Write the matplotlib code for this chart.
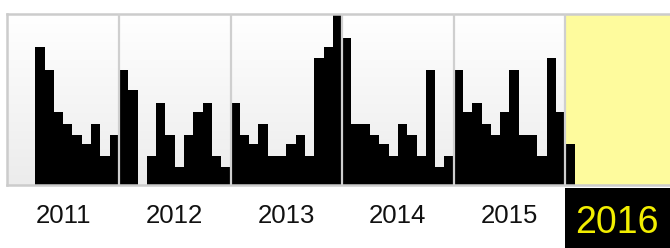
import numpy as np
import matplotlib
matplotlib.use("Agg")
import matplotlib.pyplot as plt
from matplotlib.patches import Rectangle

plt.rcParams['font.family'] = ['Liberation Sans', 'DejaVu Sans']

# monthly activity, Jan 2011 .. Jan 2016 (relative bar heights)
years = ['2011', '2012', '2013', '2014', '2015']
current_year = '2016'
v2011 = [0, 0, 0, 137, 114, 73, 61, 50, 41, 61, 29, 50]
v2012 = [114, 94, 0, 29, 82, 50, 18, 50, 73, 82, 29, 18]
v2013 = [82, 50, 41, 61, 29, 29, 41, 50, 29, 126, 137, 170]
v2014 = [146, 61, 61, 50, 41, 29, 61, 50, 29, 114, 18, 29]
v2015 = [114, 73, 82, 61, 50, 73, 114, 50, 50, 29, 126, 73]
v2016 = [41]

values = v2011 + v2012 + v2013 + v2014 + v2015 + v2016
months = np.arange(len(values))

W, H = 670, 248
fig = plt.figure(figsize=(W / 100, H / 100), dpi=100)
left = 7.3 / W
bottom = (H - 185) / H
top = (H - 14) / H
ax = fig.add_axes([left, bottom, 1 - left, top - bottom])

xmax = 60 + (W - 565.3) / 9.3
ax.set_xlim(0, xmax)
ax.set_ylim(0, 170)

# soft vertical gradient background
grad = np.linspace(0, 1, 100).reshape(-1, 1)
ax.imshow(grad, extent=[0, xmax, 0, 170], aspect='auto', origin='lower',
          cmap=matplotlib.colors.LinearSegmentedColormap.from_list('g', ['#ececec', '#ffffff']),
          zorder=0)
ax.axvspan(60, xmax, color='#fefb9d', zorder=1, lw=0)

ax.bar(months, values, width=1.0, align='edge', color='black', lw=0, zorder=2)

for k in range(1, 6):
    ax.axvline(12 * k, color='#cfcfcf', lw=1.6, zorder=3)

for s in ['top', 'left', 'bottom']:
    ax.spines[s].set_color('#cccccc')
    ax.spines[s].set_linewidth(1.8)
ax.spines['right'].set_visible(False)

ax.set_yticks([])
ax.set_xticks([12 * i + 6 for i in range(len(years))])
ax.set_xticklabels(years, fontsize=18.5, color='#111111')
ax.tick_params(axis='x', length=0, pad=14)

# highlighted current year
ax.add_patch(Rectangle((60, -0.015), xmax - 60 + 1, -0.4, transform=ax.get_xaxis_transform(),
                       facecolor='black', edgecolor='none', clip_on=False, zorder=5))
ax.text(60 + (xmax - 60) / 2 - 0.1, -0.22, current_year, transform=ax.get_xaxis_transform(),
        ha='center', va='center', fontsize=27, color='#f2ee00', zorder=6, clip_on=False)

fig.savefig('out.png', dpi=100)
